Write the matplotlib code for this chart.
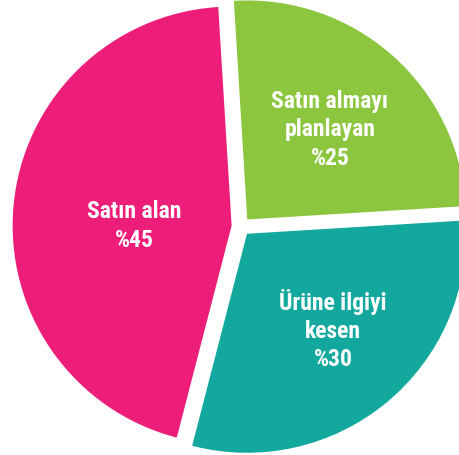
import matplotlib
matplotlib.use("Agg")
import matplotlib.pyplot as plt

labels = ["Satın almayı\nplanlayan", "Ürüne ilgiyi\nkesen", "Satın alan"]
shares = [25, 30, 45]
colors = ["#8CC63F", "#13A89E", "#ED1E79"]

fig = plt.figure(figsize=(4.59, 4.55), dpi=100)
ax = fig.add_axes([0, 0, 1, 1])

wedges, _ = ax.pie(shares, colors=colors, startangle=93.5, counterclock=False,
                   explode=[0.043] * 3, radius=1,
                   wedgeprops=dict(linewidth=0))

# label centres (data units), placed by eye
label_pos = [(0.406, 0.441), (0.420, -0.473), (-0.489, 0.002)]
for lab, val, (x, y) in zip(labels, shares, label_pos):
    ax.text(x, y, f"{lab}\n%{val}", ha="center", va="center",
            color="white", fontsize=17, fontweight="bold",
            family="Roboto Condensed", linespacing=1.3)

ax.set_aspect("auto")
ax.set_xlim(-241 / 219, (459 - 241) / 219)
ax.set_ylim(-(455 - 226.5) / 219, 226.5 / 219)
ax.axis("off")

fig.savefig("out.png", dpi=100)
